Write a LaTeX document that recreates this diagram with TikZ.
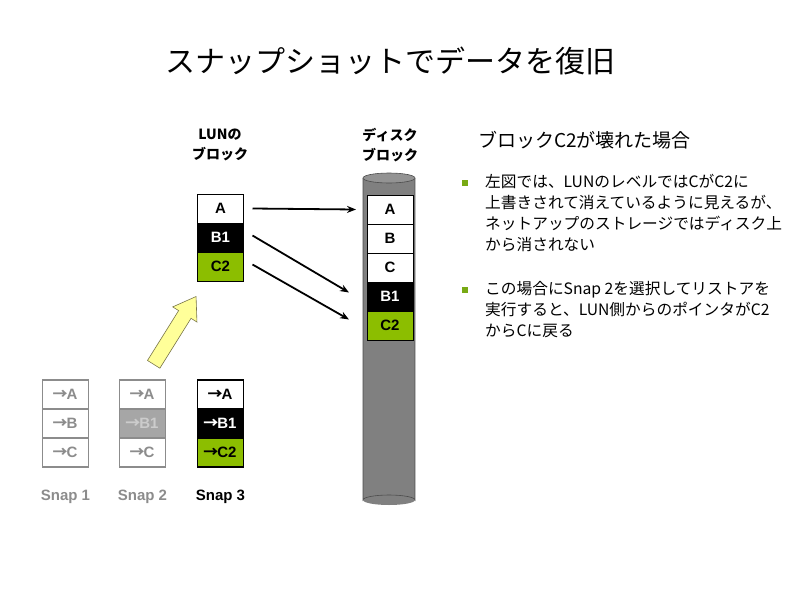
\documentclass[tikz,border=0pt]{standalone}
\usepackage{fontspec}
\setmainfont{Noto Sans CJK JP}
\newfontfamily\latinfont{Liberation Sans}
\newfontfamily\arrowfont{Noto Sans CJK JP}
\usetikzlibrary{positioning,shapes.arrows,arrows.meta}
\definecolor{limegreen}{RGB}{140,190,0}
\definecolor{bulletgreen}{RGB}{120,170,20}
\definecolor{snapgray}{RGB}{140,140,140}
\definecolor{diskgray}{RGB}{128,128,128}
\definecolor{paleyellow}{RGB}{255,255,153}
\newcommand\ptr{{\arrowfont\bfseries\kern-1pt→\kern-1pt}}
\begin{document}
\begin{tikzpicture}[x=1pt,y=-1pt,>={Stealth[length=9pt,width=7pt]},
	blk/.style={draw,line width=0.8pt,outer sep=0pt,inner sep=0pt,minimum width=46pt,minimum height=29pt,
		font=\latinfont\bfseries\fontsize{15}{15}\selectfont},
	blkdark/.style={blk,fill=black,text=white},
	blkgreen/.style={blk,fill=limegreen},
	snapblk/.style={blk,draw=snapgray,line width=1.2pt,text=snapgray},
	head/.style={font=\bfseries\fontsize{14}{20}\selectfont,align=center},
	bodytext/.style={anchor=north west,inner sep=0pt,align=left,font=\fontsize{15.7}{21}\selectfont},
	bullet/.style={fill=bulletgreen,minimum size=6pt,inner sep=0pt}]
	\useasboundingbox (0,0) rectangle (800,600);
	% title
	\node (title) at (390,61) {\fontsize{30}{30}\selectfont スナップショットでデータを復旧};
	% disk cylinder
	\fill[diskgray] (363,178) rectangle (415,500);
	\fill[diskgray] (389,500) ellipse (26 and 5);
	\draw[black!70,line width=0.6pt] (363,178) -- (363,500) arc (180:360:26 and 5) -- (415,178);
	\draw[black!70,line width=0.6pt,fill=diskgray!85] (389,178) ellipse (26 and 5);
	% column heads
	\node[head] (lunhead) at (220,145) {LUNの\\ブロック};
	\node[head] (diskhead) at (390,145) {ディスク\\ブロック};
	% LUN blocks
	\node[blk,fill=white] (lA) at (220.5,208.5) {A};
	\node[blkdark,below=0pt of lA] (lB) {B1};
	\node[blkgreen,below=0pt of lB] (lC) {C2};
	% disk blocks
	\node[blk,fill=white] (dA) at (390,209.5) {A};
	\node[blk,fill=white,below=0pt of dA] (dB) {B};
	\node[blk,fill=white,below=0pt of dB] (dC) {C};
	\node[blkdark,below=0pt of dC] (dB1) {B1};
	\node[blkgreen,below=0pt of dB1] (dC2) {C2};
	% pointers
	\draw[->,line width=1.8pt] ([xshift=9pt]lA.east) -- ([xshift=-11pt]dA.west);
	\draw[->,line width=1.8pt] ([xshift=9pt,yshift=2pt]lB.east) -- ([xshift=-18pt,yshift=4pt]dB1.west);
	\draw[->,line width=1.8pt] ([xshift=9pt,yshift=2pt]lC.east) -- ([xshift=-18pt,yshift=6pt]dC2.west);
	% snapshots
	\node[snapblk,fill=white] (s1A) at (65.5,394.5) {\ptr A};
	\node[snapblk,fill=white,below=0pt of s1A] (s1B) {\ptr B};
	\node[snapblk,fill=white,below=0pt of s1B] (s1C) {\ptr C};
	\node[snapblk,fill=white] (s2A) at (142.5,394.5) {\ptr A};
	\node[snapblk,fill=black!35,text=black!20,below=0pt of s2A] (s2B) {\ptr B1};
	\node[snapblk,fill=white,below=0pt of s2B] (s2C) {\ptr C};
	\node[blk,line width=1.2pt,fill=white] (s3A) at (220.5,394.5) {\ptr A};
	\node[blkdark,line width=1.2pt,below=0pt of s3A] (s3B) {\ptr B1};
	\node[blkgreen,line width=1.2pt,below=0pt of s3B] (s3C) {\ptr C2};
	\node[font=\latinfont\bfseries\fontsize{15}{15}\selectfont,text=snapgray] (snap1) at (65.5,497) {Snap 1};
	\node[font=\latinfont\bfseries\fontsize{15}{15}\selectfont,text=snapgray] (snap2) at (142.5,497) {Snap 2};
	\node[font=\latinfont\bfseries\fontsize{15}{15}\selectfont] (snap3) at (220.5,497) {Snap 3};
	% restore arrow
	\node[single arrow,draw=black!60!yellow,fill=paleyellow,line width=0.6pt,inner sep=7pt,
		single arrow head extend=7pt,single arrow tip angle=68,minimum height=80pt,
		rotate=58] (restore) at (172,335) {};
	% explanation
	\node[anchor=west,inner sep=0pt,font=\fontsize{19}{19}\selectfont] (case) at (478,140) {ブロックC2が壊れた場合};
	\node[bullet] (b1) at (465,183) {};
	\node[bodytext] (t1) at (485,174) {左図では、LUNのレベルではCがC2に\\上書きされて消えているように見えるが、\\ネットアップのストレージではディスク上\\から消されない};
	\node[bullet] (b2) at (465,290) {};
	\node[bodytext] (t2) at (485,281) {この場合にSnap 2を選択してリストアを\\実行すると、LUN側からのポインタがC2\\からCに戻る};
\end{tikzpicture}
\end{document}
